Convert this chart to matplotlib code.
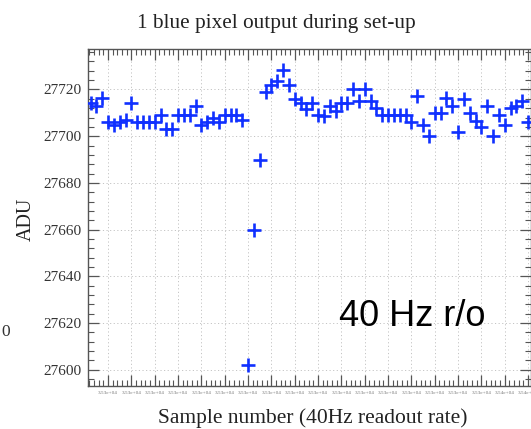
import matplotlib
matplotlib.use('Agg')
import matplotlib.pyplot as plt
from matplotlib.ticker import MultipleLocator, AutoMinorLocator, FormatStrFormatter

# ---- data ----
first_sample = 35281
adu = [27714, 27713, 27716.5, 27706, 27705, 27706, 27707, 27714, 27706, 27706,
       27706, 27706, 27709, 27703, 27703, 27709, 27709, 27709, 27713, 27705,
       27706, 27708, 27706, 27709, 27709, 27709, 27707, 27602, 27660, 27690,
       27719, 27722, 27723.5, 27728.5, 27722, 27716, 27714, 27711.5, 27714, 27709,
       27708.5, 27713, 27711, 27714, 27714, 27720, 27715, 27720, 27715, 27712,
       27709, 27709, 27709, 27709, 27709, 27706, 27717, 27705, 27700, 27710,
       27710, 27716.5, 27713, 27702, 27716, 27710, 27706.5, 27704, 27713, 27700,
       27709, 27705, 27712, 27713, 27715, 27706]
samples = [first_sample + i for i in range(len(adu))]

title = "1 blue pixel output during set-up"
xlabel = "Sample number (40Hz readout rate)"
ylabel = "ADU"
note = "40 Hz r/o"

W, H = 531, 429
serif = 'Liberation Serif'

fig = plt.figure(figsize=(W / 100, H / 100), dpi=100)
fig.patch.set_facecolor('white')
ax = fig.add_axes([88 / W, (H - 385.7) / H, (530.5 - 88) / W, (385.7 - 49.3) / H])

ax.plot(samples, adu, linestyle='none', marker='+', ms=10, mew=1.9,
        color='#1030ff', zorder=3)

ax.set_xlim(first_sample - 0.43, first_sample + 75.4)
ax.set_ylim(27593.2, 27737.2)

ax.xaxis.set_major_locator(MultipleLocator(4))
ax.xaxis.set_minor_locator(AutoMinorLocator(5))
ax.yaxis.set_major_locator(MultipleLocator(20))
ax.yaxis.set_minor_locator(AutoMinorLocator(5))
ax.xaxis.set_major_formatter(FormatStrFormatter('%.2e'))

ax.set_axisbelow(True)
ax.grid(True, which='major', linestyle=(0, (1.2, 2.5)), color='#c4c4c4', linewidth=0.7)

ax.tick_params(which='both', direction='in', top=True, right=True, color='#555555')
ax.tick_params(which='major', length=8, width=0.9)
ax.tick_params(which='minor', length=4, width=0.8)
ax.tick_params(axis='x', labelsize=3.8, labelcolor='#777777', pad=4)
ax.tick_params(axis='y', labelsize=11, labelcolor='#333333', pad=4.5)
for lab in ax.get_xticklabels() + ax.get_yticklabels():
    lab.set_family(serif)
for sp in ax.spines.values():
    sp.set_color('#555555')
    sp.set_linewidth(1.0)

fig.text(276.5 / W, 1 - 28 / H, title, ha='center', va='baseline',
         fontsize=15.3, family=serif, color='#222222')
fig.text(312.5 / W, 1 - 423.5 / H, xlabel, ha='center', va='baseline',
         fontsize=15.5, family=serif, color='#222222')
fig.text(26 / W, 1 - 219 / H, ylabel, ha='center', va='center', rotation=90,
         fontsize=14.5, family=serif, color='#222222')
fig.text(339 / W, 1 - 326 / H, note, ha='left', va='baseline',
         fontsize=26, family='Liberation Sans', color='black')
fig.text(10.5 / W, 1 - 332.5 / H, "0", ha='right', va='center',
         fontsize=12.5, family=serif, color='#333333')

fig.savefig('out.png', dpi=100)
